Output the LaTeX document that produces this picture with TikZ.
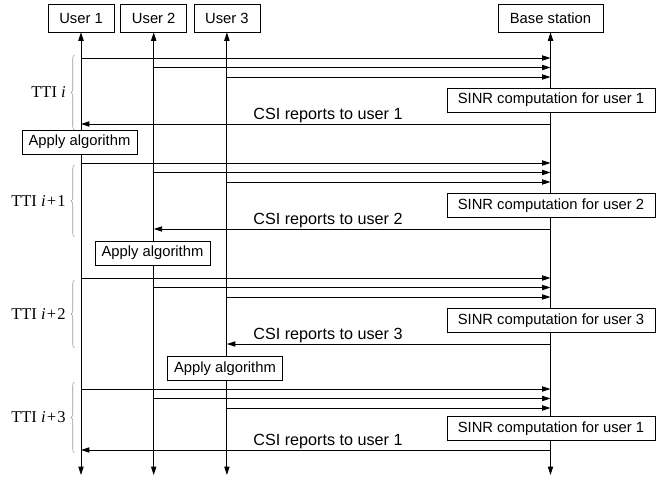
\documentclass[tikz,border=0pt]{standalone}
\usepackage{fontspec}
\setsansfont{Liberation Sans}
\newfontfamily\ttifont{Liberation Serif}
\usetikzlibrary{positioning, arrows.meta, decorations.pathreplacing, backgrounds}

\begin{document}
\begin{tikzpicture}[
  actor/.style={draw, minimum width=1.32cm, minimum height=0.56cm, inner sep=1pt,
                font=\sffamily\fontsize{8.4}{10}\selectfont},
  proc/.style={draw, fill=white, minimum height=0.48cm, inner sep=1pt,
               font=\sffamily\fontsize{8.4}{10}\selectfont},
  life/.style={{Triangle[length=4.8pt,width=3pt]}-{Triangle[length=4.8pt,width=3pt]}, line width=0.5pt},
  msg/.style={-{Triangle[length=4.8pt,width=3pt]}, line width=0.5pt},
  lbl/.style={font=\sffamily\fontsize{9.2}{11}\selectfont, anchor=south, inner sep=0.5pt},
  tti/.style={draw=black!40, line width=0.3pt, decorate, decoration={brace, amplitude=2pt}},
  ttilbl/.style={font=\ttifont\fontsize{9.4}{11}\selectfont, anchor=east, inner sep=0pt, xshift=-0.17cm},
]

\useasboundingbox (0,0) rectangle (13.26,-9.62);

% === Nodes ===

% Users and base station
\node[actor] (u1) at (1.62,-0.36) {User 1};
\node[actor, right=0.12cm of u1] (u2) {User 2};
\node[actor, right=0.13cm of u2] (u3) {User 3};
\node[actor, minimum width=2.1cm] (bs) at (11.01,-0.36) {Base station};

\coordinate (bottom) at (0,-9.5);
\coordinate (lx) at (6.56,0);

% Message rows
\coordinate (r1a) at (0,-1.16);
\coordinate (r1b) at (0,-1.35);
\coordinate (r1c) at (0,-1.54);
\coordinate (r1d) at (0,-2.48);
\coordinate (r2a) at (0,-3.26);
\coordinate (r2b) at (0,-3.45);
\coordinate (r2c) at (0,-3.64);
\coordinate (r2d) at (0,-4.58);
\coordinate (r3a) at (0,-5.56);
\coordinate (r3b) at (0,-5.75);
\coordinate (r3c) at (0,-5.94);
\coordinate (r3d) at (0,-6.88);
\coordinate (r4a) at (0,-7.78);
\coordinate (r4b) at (0,-7.97);
\coordinate (r4c) at (0,-8.16);
\coordinate (r4d) at (0,-9.0);

% SINR computation and algorithm boxes
\node[proc, minimum width=4.16cm] (s1) at (11.02,-2.0) {SINR computation for user 1};
\node[proc, minimum width=4.16cm] (s2) at (11.02,-4.11) {SINR computation for user 2};
\node[proc, minimum width=4.16cm] (s3) at (11.02,-6.41) {SINR computation for user 3};
\node[proc, minimum width=4.16cm] (s4) at (11.02,-8.57) {SINR computation for user 1};

\node[proc, minimum width=2.3cm] (a1) at (1.59,-2.84) {Apply algorithm};
\node[proc, minimum width=2.3cm] (a2) at (3.05,-5.06) {Apply algorithm};
\node[proc, minimum width=2.3cm] (a3) at (4.5,-7.37) {Apply algorithm};

% === Lifelines on background layer ===
\begin{scope}[on background layer]
  \draw[life] (u1) -- (u1 |- bottom);
  \draw[life] (u2) -- (u2 |- bottom);
  \draw[life] (u3) -- (u3 |- bottom);
  \draw[life] (bs) -- (bs |- bottom);
\end{scope}

% === Messages ===

% TTI i
\draw[msg] (u1 |- r1a) -- (bs |- r1a);
\draw[msg] (u2 |- r1b) -- (bs |- r1b);
\draw[msg] (u3 |- r1c) -- (bs |- r1c);
\draw[msg] (bs |- r1d) -- (u1 |- r1d);
\node[lbl] (csi1) at (lx |- r1d) {CSI reports to user 1};

% TTI i+1
\draw[msg] (u1 |- r2a) -- (bs |- r2a);
\draw[msg] (u2 |- r2b) -- (bs |- r2b);
\draw[msg] (u3 |- r2c) -- (bs |- r2c);
\draw[msg] (bs |- r2d) -- (u2 |- r2d);
\node[lbl] (csi2) at (lx |- r2d) {CSI reports to user 2};

% TTI i+2
\draw[msg] (u1 |- r3a) -- (bs |- r3a);
\draw[msg] (u2 |- r3b) -- (bs |- r3b);
\draw[msg] (u3 |- r3c) -- (bs |- r3c);
\draw[msg] (bs |- r3d) -- (u3 |- r3d);
\node[lbl] (csi3) at (lx |- r3d) {CSI reports to user 3};

% TTI i+3
\draw[msg] (u1 |- r4a) -- (bs |- r4a);
\draw[msg] (u2 |- r4b) -- (bs |- r4b);
\draw[msg] (u3 |- r4c) -- (bs |- r4c);
\draw[msg] (bs |- r4d) -- (u1 |- r4d);
\node[lbl] (csi4) at (lx |- r4d) {CSI reports to user 1};

% === TTI braces ===
\draw[tti] (1.49,-2.6) -- node[ttilbl] (t1) {TTI \textit{i}} (1.49,-1.1);
\draw[tti] (1.49,-4.74) -- node[ttilbl] (t2) {TTI \textit{i}\kern0.7pt+\kern0.7pt1} (1.49,-3.3);
\draw[tti] (1.49,-6.96) -- node[ttilbl] (t3) {TTI \textit{i}\kern0.7pt+\kern0.7pt2} (1.49,-5.6);
\draw[tti] (1.49,-9.06) -- node[ttilbl] (t4) {TTI \textit{i}\kern0.7pt+\kern0.7pt3} (1.49,-7.64);

\end{tikzpicture}
\end{document}
